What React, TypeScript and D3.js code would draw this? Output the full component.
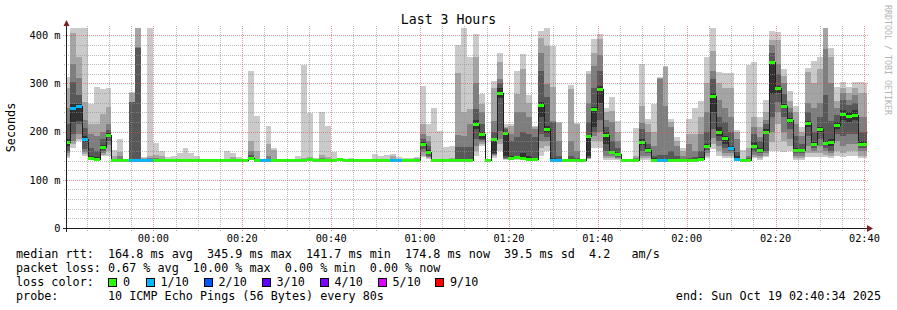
import React from 'react';
import * as d3 from 'd3';

const W = 897;
const H = 310;

const title = 'Last 3 Hours';
const yLabel = 'Seconds';
const watermark = 'RRDTOOL / TOBI OETIKER';
const yTickValues = [0, 100, 200, 300, 400];
const yTickLabels = ['0', '100 m', '200 m', '300 m', '400 m'];
const yMax = 415;

// end of graph: Sun Oct 19 02:40:34 2025, 3 hours span, 80 s steps
const endTime = Date.UTC(2025, 9, 19, 2, 40, 34);
const spanMs = 3 * 3600 * 1000;
const stepMs = 80000;
const firstStepOffsetMs = 40000;

// 10 sorted ping rtts (ms) per 80 s step
const pings: number[][] = [
  [146,150,155,160,170,185,215,250,290,313],
  [167,174,180,195,219,257,302,341,404,420],
  [181,185,195,216,222,258,276,311,355,420],
  [150,154,157,164,178,190,207,224,262,420],
  [142,142,142,143,144,150,165,195,216,257],
  [141,141,142,142,142,148,160,191,216,292],
  [150,152,155,160,163,172,185,200,236,288],
  [150,160,172,180,188,198,204,216,251,290],
  [142,142,142,142,142,142,142,142,150,162],
  [142,142,142,142,142,142,142,150,157,184],
  [142,142,142,142,142,142,142,142,142,142],
  [142,142,142,142,142,142,261,262,280,282],
  [142,142,142,142,142,142,374,376,420,430],
  [142,142,142,142,142,142,142,142,145,147],
  [142,142,142,142,142,142,142,146,150,420],
  [142,142,142,142,142,142,142,145,151,176],
  [142,142,142,142,142,142,142,142,150,160],
  [142,142,142,142,142,142,142,142,142,148],
  [142,142,142,142,142,142,142,142,142,150],
  [142,142,142,142,142,142,142,142,142,156],
  [142,142,142,142,142,142,142,142,142,166],
  [142,142,142,142,142,142,142,142,142,156],
  [142,142,142,142,142,142,142,142,142,150],
  [142,142,142,142,142,142,142,142,142,142],
  [142,142,142,142,142,142,142,142,142,142],
  [142,142,142,142,142,142,142,142,142,142],
  [142,142,142,142,142,142,142,142,142,142],
  [142,142,142,142,142,142,142,142,142,160],
  [142,142,142,142,142,142,142,142,148,155],
  [142,142,142,142,142,142,142,142,142,148],
  [142,142,142,142,142,142,142,142,142,144],
  [142,142,142,142,144,148,152,160,180,326],
  [142,142,142,142,142,142,142,142,160,232],
  [142,142,142,142,142,142,142,142,142,142],
  [142,142,142,142,142,142,142,150,174,212],
  [142,142,142,142,142,142,142,142,162,166],
  [142,142,142,142,142,142,142,142,142,142],
  [142,142,142,142,142,142,142,142,142,142],
  [142,142,142,142,142,142,142,142,142,142],
  [142,142,142,142,142,142,142,142,142,149],
  [142,142,142,142,142,142,142,142,146,339],
  [142,142,142,142,143,145,145,146,148,239],
  [142,142,142,142,142,142,142,142,142,146],
  [142,142,142,142,142,142,142,145,151,241],
  [142,142,142,142,142,142,142,142,148,212],
  [142,142,142,142,142,142,142,142,142,157],
  [142,142,142,142,142,144,144,144,144,144],
  [142,142,142,142,142,142,142,142,142,142],
  [142,142,142,142,142,142,142,142,142,145],
  [142,142,142,142,142,142,142,142,142,142],
  [142,142,142,142,142,142,142,142,142,142],
  [142,142,142,142,142,142,142,142,142,142],
  [142,142,142,142,142,142,142,142,142,153],
  [142,142,142,142,142,142,142,142,142,150],
  [142,142,142,142,142,142,142,142,142,151],
  [142,142,142,142,142,142,142,142,150,153],
  [142,142,142,142,142,142,142,142,142,147],
  [142,142,142,142,142,142,142,142,142,145],
  [142,142,142,142,142,142,142,142,142,145],
  [142,142,142,142,142,142,142,142,146,148],
  [148,150,157,163,170,178,185,195,216,295],
  [144,145,147,150,155,162,170,181,190,216],
  [142,142,142,142,142,142,142,142,142,250],
  [142,142,142,142,142,142,142,142,142,202],
  [142,142,142,142,142,142,142,142,142,169],
  [142,142,142,142,142,142,142,142,146,171],
  [142,142,142,142,142,143,169,193,322,380],
  [142,142,142,142,142,143,168,190,240,415],
  [142,142,142,142,142,143,168,216,247,354],
  [150,160,170,185,205,225,247,300,354,402],
  [171,175,178,182,185,199,215,240,257,278],
  [142,142,142,142,142,142,142,142,142,142],
  [145,150,152,154,156,186,200,223,290,306],
  [160,175,185,202,270,290,300,309,344,363],
  [142,143,144,145,150,199,205,207,209,216],
  [142,143,143,144,145,150,180,195,212,216],
  [142,143,145,147,148,150,188,240,278,326],
  [142,143,144,146,148,155,200,240,330,362],
  [142,142,143,145,146,150,195,230,260,275],
  [142,142,143,144,144,146,188,205,210,212],
  [150,165,180,195,230,262,326,364,395,408],
  [160,170,180,188,198,212,271,299,378,415],
  [142,142,142,142,142,146,219,222,292,378],
  [142,142,142,142,142,143,150,180,218,219],
  [142,142,142,142,142,142,142,142,142,142],
  [142,142,142,142,142,143,150,180,288,297],
  [142,142,142,142,142,142,145,160,215,217],
  [142,142,142,142,142,142,142,142,142,142],
  [143,144,145,146,150,192,220,260,320,326],
  [165,180,190,200,210,252,290,336,364,392],
  [165,180,200,225,260,295,326,360,392,402],
  [142,145,150,160,175,200,210,225,240,250],
  [142,145,150,155,157,160,180,220,243,271],
  [142,143,145,148,150,155,165,180,200,223],
  [142,142,142,142,142,142,142,142,142,142],
  [142,142,142,142,142,142,142,142,142,142],
  [142,142,142,142,142,142,142,145,150,207],
  [142,145,150,160,172,185,205,217,253,341],
  [142,145,150,155,160,165,175,199,215,226],
  [142,142,142,143,144,145,150,170,199,257],
  [142,142,142,143,145,146,152,309,311,313],
  [142,142,142,143,145,146,152,254,334,337],
  [142,142,142,142,143,144,160,210,220,226],
  [142,142,142,142,143,144,150,170,180,188],
  [142,142,142,142,142,142,142,150,160,166],
  [142,142,142,142,142,142,145,175,195,226],
  [142,142,142,142,142,142,148,160,195,250],
  [142,142,143,144,145,148,160,195,230,264],
  [145,150,155,162,168,175,200,240,300,354],
  [163,175,186,205,240,280,310,326,368,415],
  [150,160,170,180,190,210,230,265,300,324],
  [145,150,155,165,175,190,220,250,290,321],
  [145,150,155,160,163,170,200,230,290,321],
  [142,142,142,142,145,150,158,185,200,203],
  [142,142,142,142,142,142,142,142,142,162],
  [142,142,142,142,142,142,145,150,165,339],
  [145,148,152,157,165,178,195,209,230,345],
  [142,145,150,155,158,165,180,188,210,230],
  [147,150,155,160,195,205,215,225,240,266],
  [160,178,200,230,278,347,364,380,390,409],
  [160,216,240,262,280,295,320,340,390,406],
  [157,180,200,230,248,258,278,300,316,330],
  [160,170,185,205,218,228,240,250,264,285],
  [142,145,150,155,158,166,190,215,240,254],
  [142,145,150,155,158,164,175,190,200,210],
  [147,155,170,190,210,222,240,260,323,333],
  [147,155,160,165,170,178,200,250,300,347],
  [147,155,170,185,200,210,230,260,330,354],
  [148,152,160,165,172,180,275,371,415,420],
  [145,150,155,160,170,185,223,300,354,373],
  [150,160,180,195,205,220,235,250,264,293],
  [147,155,170,190,225,245,265,280,290,302],
  [150,160,175,195,220,240,255,265,280,293],
  [150,160,175,195,225,245,260,275,290,302],
  [145,150,160,165,170,180,200,230,281,302],
  [145,150,160,165,172,180,200,230,280,300],
];

const median: number[] = [
  178,249,253,184,145,143,168,193,142,142,
  142,142,142,142,142,142,142,142,142,142,
  142,142,142,142,142,142,142,142,142,142,
  142,146,142,142,142,142,142,142,142,142,
  142,144,142,142,142,142,143,142,142,142,
  142,142,142,142,142,142,142,142,142,142,
  174,158,142,142,142,142,142,142,142,216,
  196,142,185,281,198,145,147,145,143,144,
  256,205,142,142,142,142,142,142,190,247,
  288,194,158,153,142,142,142,179,162,142,
  142,142,142,142,142,142,142,144,170,274,
  200,187,166,143,142,142,170,161,200,345,
  290,254,224,162,161,217,174,205,176,178,
  214,237,232,235,174,174,
];

const loss: number[] = [
  0,1,1,1,0,0,0,0,0,0,
  0,1,1,1,1,0,0,0,0,0,
  0,0,0,0,0,0,0,0,0,0,
  0,0,0,1,1,0,0,0,0,0,
  0,0,0,0,0,0,0,0,0,0,
  0,0,0,0,0,1,1,0,0,0,
  0,0,0,0,0,0,0,0,0,0,
  0,0,0,0,0,0,0,0,0,0,
  0,0,1,1,0,0,0,0,0,0,
  0,0,0,0,0,0,0,0,0,0,
  1,1,0,0,0,0,0,0,0,0,
  0,0,1,1,0,0,0,0,0,0,
  0,0,0,0,0,0,0,0,0,0,
  0,0,0,0,0,0,
];

const smokeShades = ['#cacaca', '#a4a4a4', '#7e7e7e', '#585858', '#323232'];

const lossLabels = ['0', '1/10', '2/10', '3/10', '4/10', '5/10', '9/10'];
const lossColors = ['#26ff00', '#00b8ff', '#0059ff', '#5e00ff', '#7e00ff', '#dd00ff', '#ff0000'];
const lossSwatchX = [108, 145.5, 203.5, 261.5, 319.5, 377.5, 435];

const legendLines = [
  'median rtt:  164.8 ms avg  345.9 ms max  141.7 ms min  174.8 ms now  39.5 ms sd  4.2   am/s',
  'packet loss: 0.67 % avg  10.00 % max  0.00 % min  0.00 % now',
  'loss color:',
  'probe:       10 ICMP Echo Pings (56 Bytes) every 80s',
];
const endLabel = 'end: Sun Oct 19 02:40:34 2025';

const MONO = '"DejaVu Sans Mono", monospace';

export default function App() {
  const startTime = endTime - spanMs;
  const x = d3.scaleUtc().domain([new Date(startTime), new Date(endTime)]).range([67, 867]);
  const y = d3.scaleLinear().domain([0, yMax]).range([228, 28]).clamp(true);

  const cols = pings.map((p, c) => {
    const t0 = c === 0 ? startTime : startTime + firstStepOffsetMs + (c - 1) * stepMs;
    const t1 = Math.min(endTime, startTime + firstStepOffsetMs + c * stepMs);
    return { p, c, x0: Math.round(x(new Date(t0))), x1: Math.round(x(new Date(t1))) };
  });

  const majorTicks = d3.utcMinute.every(20)!.range(new Date(startTime), new Date(endTime + 1));
  const minorTicks = d3.utcMinute.every(5)!.range(new Date(startTime), new Date(endTime + 1))
    .filter((d) => d.getUTCMinutes() % 20 !== 0);
  const fmt = d3.utcFormat('%H:%M');

  const yMinor = d3.range(20, yMax, 20).filter((v) => v % 100 !== 0);
  const yMajor = yTickValues.filter((v) => v > 0);

  const medPts: [number, number][] = cols.map((col) => [col.x0, Math.round(y(median[col.c])) + 0.5]);
  const last = cols[cols.length - 1];
  medPts.push([last.x1, Math.round(y(median[last.c])) + 0.5]);
  const medLine = d3.line().curve(d3.curveStepAfter)(medPts) || '';

  const gridGray = 'rgba(143,143,143,0.6)';
  const gridRed = 'rgba(222,79,79,0.6)';

  return (
    <svg width={W} height={H} style={{ position: 'absolute', left: 0, top: 0, background: '#ffffff' }}
      fontFamily={MONO}>
      <rect x={0} y={0} width={W} height={H} fill="#ffffff" />
      {/* smoke */}
      <g shapeRendering="crispEdges">
        {cols.map((col) =>
          smokeShades.map((shade, i) => {
            const lo = col.p[i];
            const hi = col.p[9 - i];
            const yt = Math.round(y(hi));
            const yb = Math.round(y(lo));
            if (yb - yt <= 0) return null;
            return (
              <rect key={`s${col.c}-${i}`} x={col.x0} y={yt} width={col.x1 - col.x0} height={yb - yt} fill={shade} />
            );
          })
        )}
      </g>
      {/* median */}
      <path d={medLine} fill="none" stroke="#202020" strokeWidth={1} shapeRendering="crispEdges" />
      <g shapeRendering="crispEdges">
        {cols.map((col) => (
          <rect key={`m${col.c}`} x={col.x0} y={Math.round(y(median[col.c])) - 1} width={col.x1 - col.x0} height={3}
            fill={lossColors[loss[col.c]]} />
        ))}
      </g>
      {/* grid */}
      <g shapeRendering="crispEdges" strokeDasharray="1,1" strokeWidth={1}>
        {yMinor.map((v) => (
          <line key={`gy${v}`} x1={64} x2={869} y1={Math.round(y(v)) + 0.5} y2={Math.round(y(v)) + 0.5} stroke={gridGray} />
        ))}
        {minorTicks.map((d) => (
          <line key={`gx${+d}`} y1={26} y2={231} x1={Math.round(x(d)) + 0.5} x2={Math.round(x(d)) + 0.5} stroke={gridGray} />
        ))}
        {yMajor.map((v) => (
          <line key={`my${v}`} x1={63} x2={869} y1={Math.round(y(v)) + 0.5} y2={Math.round(y(v)) + 0.5} stroke={gridRed} />
        ))}
        {majorTicks.map((d) => (
          <line key={`mx${+d}`} y1={26} y2={232} x1={Math.round(x(d)) + 0.5} x2={Math.round(x(d)) + 0.5} stroke={gridRed} />
        ))}
      </g>
      {/* axes */}
      <g shapeRendering="crispEdges" stroke="#1f1f1f">
        <line x1={63} x2={869} y1={228.5} y2={228.5} />
        <line x1={66.5} x2={66.5} y1={24} y2={232} />
      </g>
      <path d="M63.5,26 L66.5,20 L69.5,26 Z" fill="#801f1f" />
      <path d="M867,225 L873,228.5 L867,232 Z" fill="#801f1f" />
      {/* y labels */}
      <g fontSize={10.3} fill="#000" textAnchor="end">
        {yTickValues.map((v, i) => (
          <text key={`yl${v}`} x={60.5} y={y(v) + 3.8} style={{ whiteSpace: 'pre' }}>{yTickLabels[i]}</text>
        ))}
      </g>
      {/* x labels */}
      <g fontSize={10.3} fill="#000" textAnchor="middle">
        {majorTicks.map((d) => (
          <text key={`xl${+d}`} x={x(d)} y={241.5}>{fmt(d)}</text>
        ))}
      </g>
      <text x={448.5} y={24} fontSize={13.2} textAnchor="middle" fill="#000">{title}</text>
      <text transform="translate(15,127.5) rotate(-90)" fontSize={11.75} textAnchor="middle" fill="#000">{yLabel}</text>
      <text transform="translate(885,60) rotate(90)" fontSize={8.3} textAnchor="middle" fill="#b4b4b4">{watermark}</text>
      {/* legend */}
      <g fontSize={11.75} fill="#000" style={{ whiteSpace: 'pre' }}>
        {legendLines.map((s, i) => (
          <text key={`lg${i}`} x={16} y={257.5 + i * 14} style={{ whiteSpace: 'pre' }}>{s}</text>
        ))}
        <text x={881} y={299.5} textAnchor="end" style={{ whiteSpace: 'pre' }}>{endLabel}</text>
        {lossLabels.map((lab, i) => (
          <g key={`lc${i}`}>
            <rect x={lossSwatchX[i] + 0.5} y={278.5} width={8} height={8} fill={lossColors[i]} stroke="#000" strokeWidth={1}
              shapeRendering="crispEdges" />
            <text x={lossSwatchX[i] + 15} y={285.5} style={{ whiteSpace: 'pre' }}>{lab}</text>
          </g>
        ))}
      </g>
    </svg>
  );
}
